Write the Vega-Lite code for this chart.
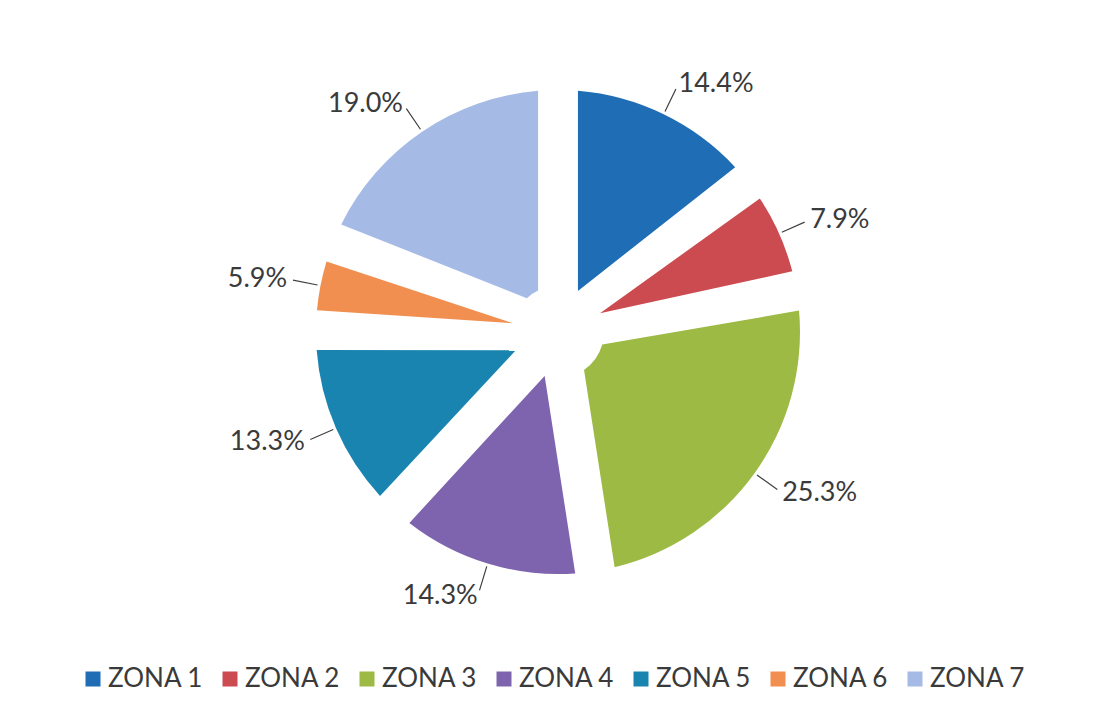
{
  "$schema": "https://vega.github.io/schema/vega-lite/v6.json",
  "width": 1102,
  "height": 640,
  "padding": {"left": 7, "top": 12, "right": 0, "bottom": 0},
  "autosize": {"type": "pad"},
  "background": "white",
  "config": {"view": {"stroke": null}},
  "data": {
    "values": [
      {"zona": "ZONA 1", "pct": 14.4, "label": "14.4%"},
      {"zona": "ZONA 2", "pct": 7.9, "label": "7.9%"},
      {"zona": "ZONA 3", "pct": 25.3, "label": "25.3%"},
      {"zona": "ZONA 4", "pct": 14.3, "label": "14.3%"},
      {"zona": "ZONA 5", "pct": 13.3, "label": "13.3%"},
      {"zona": "ZONA 6", "pct": 5.9, "label": "5.9%"},
      {"zona": "ZONA 7", "pct": 19.0, "label": "19.0%"}
    ]
  },
  "encoding": {
    "theta": {"field": "pct", "type": "quantitative", "stack": true},
    "order": {"field": "zona", "type": "ordinal", "sort": "ascending"}
  },
  "layer": [
    {
      "mark": {"type": "arc", "outerRadius": 242, "innerRadius": 46, "padAngle": 0.162},
      "encoding": {
        "color": {
          "field": "zona",
          "type": "nominal",
          "scale": {
            "domain": ["ZONA 1", "ZONA 2", "ZONA 3", "ZONA 4", "ZONA 5", "ZONA 6", "ZONA 7"],
            "range": ["#1f6db4", "#cb4b50", "#9cba44", "#7e64ae", "#1984b0", "#f08f4f", "#a5bbe6"]
          },
          "legend": {
            "orient": "none",
            "legendX": 73,
            "legendY": 654,
            "direction": "horizontal",
            "columns": 7,
            "title": null,
            "symbolType": "square",
            "symbolSize": 225,
            "symbolStrokeWidth": 0,
            "labelFont": "Lato",
            "labelFontSize": 26,
            "labelColor": "#3a3a3a",
            "labelOffset": 2,
            "columnPadding": 13
          }
        }
      }
    },
    {
      "mark": {"type": "arc", "outerRadius": 270, "innerRadius": 245, "padAngle": 3.1, "fill": "transparent", "stroke": "#404040", "strokeWidth": 1.2},
      "encoding": {"detail": {"field": "zona", "type": "nominal"}}
    },
    {
      "mark": {"type": "text", "radius": 276, "align": "left", "baseline": "middle", "font": "Lato", "fontSize": 27, "fill": "#3a3a3a"},
      "encoding": {
        "detail": {"field": "zona", "type": "nominal"},
        "text": {
          "condition": {"test": "indexof(['ZONA 1','ZONA 2','ZONA 3'], datum.zona) >= 0", "field": "label", "type": "nominal"},
          "value": ""
        }
      }
    },
    {
      "mark": {"type": "text", "radius": 276, "align": "right", "baseline": "middle", "font": "Lato", "fontSize": 27, "fill": "#3a3a3a"},
      "encoding": {
        "detail": {"field": "zona", "type": "nominal"},
        "text": {
          "condition": {"test": "indexof(['ZONA 1','ZONA 2','ZONA 3'], datum.zona) < 0", "field": "label", "type": "nominal"},
          "value": ""
        }
      }
    }
  ]
}
